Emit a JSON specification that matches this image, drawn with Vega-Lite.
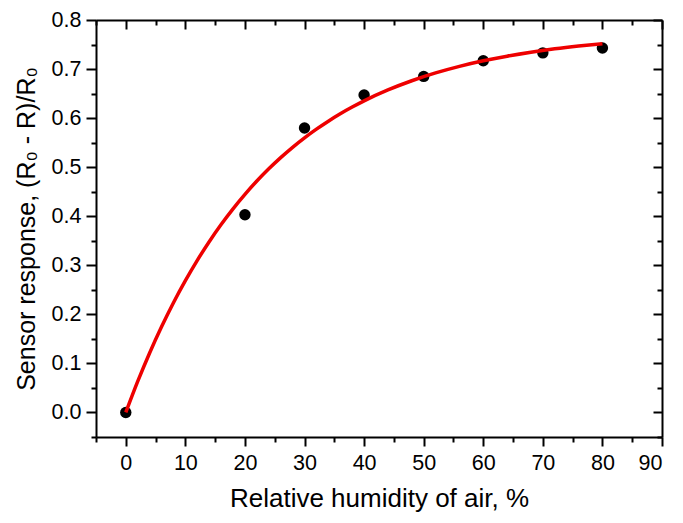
{
  "$schema": "https://vega.github.io/schema/vega-lite/v6.json",
  "autosize": {"type": "none"},
  "padding": {"left": 96, "top": 20, "right": 21, "bottom": 86},
  "width": 566,
  "height": 417,
  "background": "white",
  "config": {
    "view": {"stroke": null},
    "axis": {
      "labelFont": "Liberation Sans",
      "titleFont": "Liberation Sans",
      "labelFontSize": 21.5,
      "titleFontSize": 25,
      "titleFontWeight": "normal",
      "labelColor": "black",
      "titleColor": "black",
      "domainColor": "black",
      "tickColor": "black",
      "domainWidth": 2,
      "tickWidth": 2,
      "grid": false
    }
  },
  "datasets": {
    "pts": [
      {"rh": 0, "resp": 0.0},
      {"rh": 20, "resp": 0.403},
      {"rh": 30, "resp": 0.58},
      {"rh": 40, "resp": 0.647},
      {"rh": 50, "resp": 0.685},
      {"rh": 60, "resp": 0.717},
      {"rh": 70, "resp": 0.733},
      {"rh": 80, "resp": 0.743}
    ],
    "fit": [
      {"rh": 0, "resp": 0.0},
      {"rh": 2, "resp": 0.0632},
      {"rh": 4, "resp": 0.1213},
      {"rh": 6, "resp": 0.1746},
      {"rh": 8, "resp": 0.2237},
      {"rh": 10, "resp": 0.2687},
      {"rh": 12, "resp": 0.3101},
      {"rh": 14, "resp": 0.3481},
      {"rh": 16, "resp": 0.3831},
      {"rh": 18, "resp": 0.4151},
      {"rh": 20, "resp": 0.4446},
      {"rh": 22, "resp": 0.4717},
      {"rh": 24, "resp": 0.4966},
      {"rh": 26, "resp": 0.5195},
      {"rh": 28, "resp": 0.5405},
      {"rh": 30, "resp": 0.5598},
      {"rh": 32, "resp": 0.5775},
      {"rh": 34, "resp": 0.5938},
      {"rh": 36, "resp": 0.6088},
      {"rh": 38, "resp": 0.6225},
      {"rh": 40, "resp": 0.6352},
      {"rh": 44, "resp": 0.6574},
      {"rh": 48, "resp": 0.6762},
      {"rh": 52, "resp": 0.6921},
      {"rh": 56, "resp": 0.7055},
      {"rh": 60, "resp": 0.7168},
      {"rh": 64, "resp": 0.7263},
      {"rh": 68, "resp": 0.7344},
      {"rh": 72, "resp": 0.7412},
      {"rh": 76, "resp": 0.7469},
      {"rh": 80, "resp": 0.7518}
    ]
  },
  "layer": [
    {
      "data": {"name": "pts"},
      "mark": {"type": "circle", "size": 130, "color": "black", "opacity": 1},
      "encoding": {
        "x": {"field": "rh", "type": "quantitative", "scale": {"domain": [-5, 90], "nice": false, "zero": false},
          "axis": {"orient": "bottom", "values": [0, 10, 20, 30, 40, 50, 60, 70, 80, 90], "tickSize": 9, "labelPadding": 6, "title": "Relative humidity of air, %", "titleFontSize": 26, "titlePadding": 12}},
        "y": {"field": "resp", "type": "quantitative", "scale": {"domain": [-0.05, 0.8], "nice": false, "zero": false},
          "axis": {"orient": "left", "values": [0, 0.1, 0.2, 0.3, 0.4, 0.5, 0.6, 0.7, 0.8], "format": ".1f", "tickSize": 10, "labelPadding": 5, "title": "Sensor response, (R₀ - R)/R₀", "titlePadding": 12}}
      }
    },
    {
      "data": {"name": "pts"},
      "mark": {"type": "circle", "size": 1, "opacity": 0},
      "encoding": {
        "x": {"field": "rh", "type": "quantitative",
          "axis": {"orient": "bottom", "values": [-5, 5, 15, 25, 35, 45, 55, 65, 75, 85], "tickSize": 5, "labels": false, "domain": false, "title": null}},
        "y": {"field": "resp", "type": "quantitative",
          "axis": {"orient": "left", "values": [-0.05, 0.05, 0.15, 0.25, 0.35, 0.45, 0.55, 0.65, 0.75], "tickSize": 5, "labels": false, "domain": false, "title": null}}
      }
    },
    {
      "data": {"name": "fit"},
      "mark": {"type": "line", "color": "#ee0000", "strokeWidth": 3.5, "interpolate": "monotone"},
      "encoding": {
        "x": {"field": "rh", "type": "quantitative",
          "axis": {"orient": "top", "values": [0, 10, 20, 30, 40, 50, 60, 70, 80, 90], "tickSize": -9, "labels": false, "title": null}},
        "y": {"field": "resp", "type": "quantitative",
          "axis": {"orient": "right", "values": [0, 0.1, 0.2, 0.3, 0.4, 0.5, 0.6, 0.7, 0.8], "tickSize": -9, "labels": false, "title": null}}
      }
    },
    {
      "data": {"name": "fit"},
      "mark": {"type": "line", "opacity": 0},
      "encoding": {
        "x": {"field": "rh", "type": "quantitative",
          "axis": {"orient": "top", "values": [-5, 5, 15, 25, 35, 45, 55, 65, 75, 85], "tickSize": -5, "labels": false, "domain": false, "title": null}},
        "y": {"field": "resp", "type": "quantitative",
          "axis": {"orient": "right", "values": [-0.05, 0.05, 0.15, 0.25, 0.35, 0.45, 0.55, 0.65, 0.75], "tickSize": -5, "labels": false, "domain": false, "title": null}}
      }
    }
  ],
  "resolve": {"axis": {"x": "independent", "y": "independent"}}
}
